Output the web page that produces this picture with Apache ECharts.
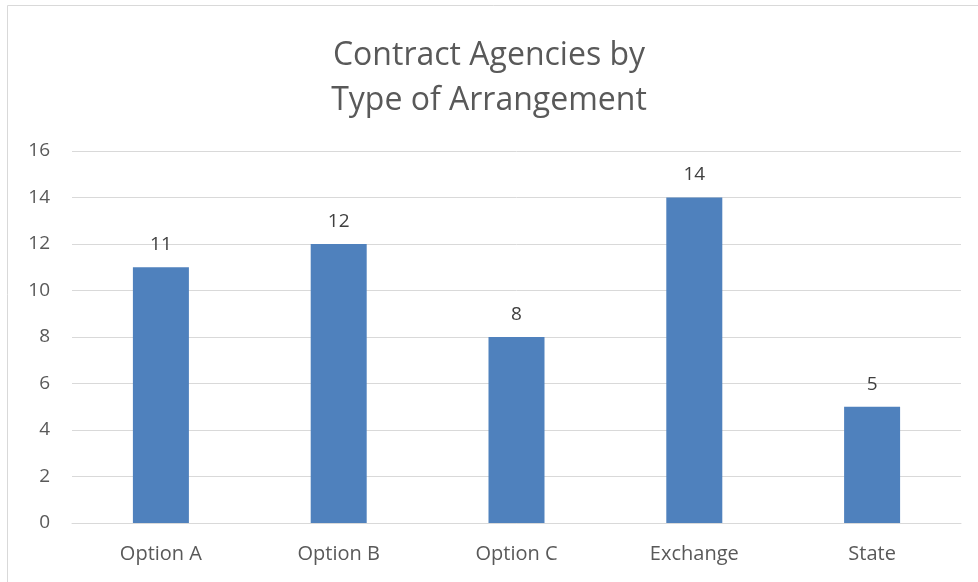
<!DOCTYPE html>
<html>
<head>
<meta charset="utf-8">
<script src="https://cdn.jsdelivr.net/npm/echarts@6/dist/echarts.min.js"></script>
<style>
  html, body { margin: 0; padding: 0; background: #fff; }
  #chart { width: 978px; height: 582px; }
</style>
</head>
<body>
<div id="chart"></div>
<script>
// 柱形图
var categories = ["Option A", "Option B", "Option C", "Exchange", "State"];
var counts = [11, 12, 8, 14, 5];
var titleLines = ["Contract Agencies by", "Type of Arrangement"];

var chart = echarts.init(document.getElementById("chart"));

var font = "'Open Sans', 'Noto Sans', sans-serif";

var option = {
  animation: false,
  textStyle: { fontFamily: font },
  title: {
    text: titleLines.join("\n"),
    left: "center",
    top: 28,
    textStyle: {
      fontFamily: font,
      fontSize: 32,
      fontWeight: "normal",
      color: "#595959",
      lineHeight: 45
    }
  },
  graphic: [
    {
      type: "rect",
      shape: { x: 7.5, y: 5.5, width: 1000, height: 1000 },
      style: { fill: "none", stroke: "#d9d9d9", lineWidth: 1 }
    }
  ],
  grid: { left: 72, right: 17, top: 151, bottom: 59 },
  xAxis: {
    type: "category",
    data: categories,
    axisTick: { show: false },
    axisLine: { lineStyle: { color: "#d9d9d9", width: 1 } },
    axisLabel: { color: "#595959", fontSize: 20, margin: 21 }
  },
  yAxis: {
    type: "value",
    min: 0,
    max: 16,
    interval: 2,
    axisLine: { show: false },
    axisTick: { show: false },
    splitLine: { lineStyle: { color: "#d9d9d9", width: 1 } },
    axisLabel: { color: "#595959", fontSize: 19, margin: 22 }
  },
  series: [
    {
      name: "Agencies",
      type: "bar",
      data: counts,
      barWidth: 56,
      itemStyle: { color: "#4f81bd" },
      label: {
        show: true,
        position: "top",
        distance: 13,
        color: "#404040",
        fontSize: 19
      }
    }
  ]
};

chart.setOption(option);
</script>
</body>
</html>
